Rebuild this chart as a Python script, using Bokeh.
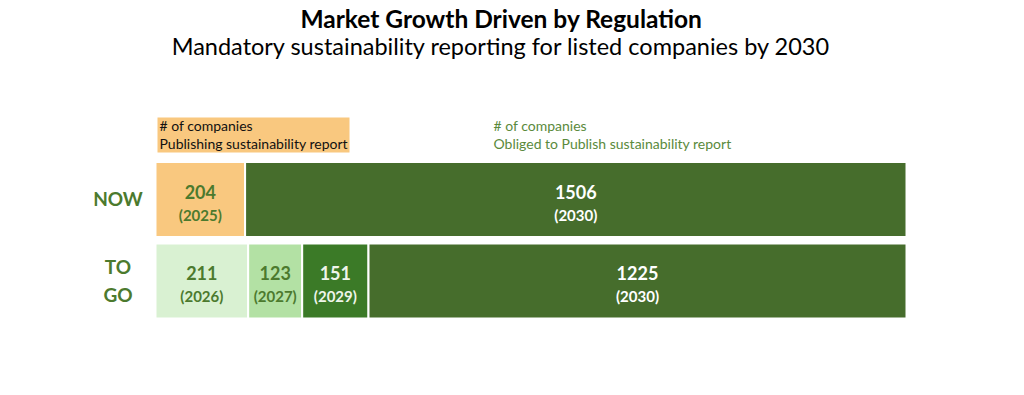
import numpy as np
from bokeh.plotting import figure
from bokeh.models import Range1d, ColumnDataSource
from bokeh.core.properties import value
from bokeh.embed import file_html
from bokeh.resources import INLINE

# ---------------- data ----------------
rows = ["NOW", "TO GO"]
now_values = [204, 1506]
now_years = ["2025", "2030"]
togo_values = [211, 123, 151, 1225]
togo_years = ["2026", "2027", "2029", "2030"]

title = "Market Growth Driven by Regulation"
subtitle = "Mandatory sustainability reporting for listed companies by 2030"
note_left = ["# of companies", "Publishing sustainability report"]
note_right = ["# of companies", "Obliged to Publish sustainability report"]

# ---------------- styles ----------------
now_colors = ["#F9C87F", "#466D2C"]
togo_colors = ["#D9F1D2", "#B3E1A4", "#3B7A27", "#466D2C"]
now_text_colors = ["#4C7A2E", "#FFFFFF"]
togo_text_colors = ["#4C7A2E", "#4C7A2E", "#EEF5EA", "#FFFFFF"]
GREEN = "#4C7A2E"
FONT = value("Lato")

OFF = 0                                  # page offset of the canvas (observed)
W, H = 1016, 387
BAR_L_PX, BAR_R_PX = 155 - OFF, 906 - OFF
ROW0_PX, ROW_STEP = 199 - OFF, 81.5

total = sum(now_values)
scale = (BAR_R_PX - BAR_L_PX) / total

def X(px):  # picture x -> data x
    return (px - OFF - BAR_L_PX) / scale

def Y(py):  # picture y -> data y (rows grow downward)
    return (py - OFF - ROW0_PX) / ROW_STEP

p = figure(width=W, height=H, output_backend="svg", toolbar_location=None,
           x_axis_location=None, y_axis_location=None, min_border=0,
           x_range=Range1d(X(OFF), X(OFF + W)),
           y_range=Range1d(Y(OFF + H), Y(OFF)))
p.grid.visible = False
p.outline_line_color = None
p.background_fill_color = "white"
p.border_fill_color = "white"

# ---------------- bars ----------------
def segs(vals):
    right = np.cumsum(vals)
    left = right - np.array(vals)
    return left, right

BAR_H = 75 / ROW_STEP
for ri, (vals, years, cols, tcols) in enumerate([
        (now_values, now_years, now_colors, now_text_colors),
        (togo_values, togo_years, togo_colors, togo_text_colors)]):
    left, right = segs(vals)
    src = ColumnDataSource(dict(y=[ri] * len(vals), left=left, right=right, color=cols))
    p.hbar(y="y", left="left", right="right", height=BAR_H, fill_color="color",
           line_color="white", line_width=2, source=src)
    mid = (left + right) / 2
    vsrc = ColumnDataSource(dict(x=mid, y=[ri + -8 / ROW_STEP] * len(vals),
                                 text=[str(v) for v in vals], color=tcols))
    p.text(x="x", y="y", text="text", text_color="color", source=vsrc,
           text_font=FONT, text_font_style="bold", text_font_size="18px",
           text_align="center", text_baseline="middle")
    ysrc = ColumnDataSource(dict(x=mid, y=[ri + 15 / ROW_STEP] * len(vals),
                                 text=["(%s)" % y for y in years], color=tcols))
    p.text(x="x", y="y", text="text", text_color="color", source=ysrc,
           text_font=FONT, text_font_style="bold", text_font_size="15px",
           text_align="center", text_baseline="middle")

# ---------------- row labels ----------------
for ri, lab in enumerate(rows):
    parts = lab.split(" ")
    n = len(parts)
    for k, part in enumerate(parts):
        off = (k - (n - 1) / 2) * 28 - 1
        p.text(x=[X(117.5)], y=[ri + off / ROW_STEP], text=[part],
               text_color=GREEN, text_font=FONT, text_font_style="bold",
               text_font_size="19px", text_align="center", text_baseline="middle")

# ---------------- notes ----------------
p.quad(left=[X(157)], right=[X(349)], top=[Y(117)], bottom=[Y(152)],
       fill_color="#F9C87F", line_color=None)
for k, t in enumerate(note_left):
    p.text(x=[X(159)], y=[Y(125 + 18 * k)], text=[t], text_color="#111111",
           text_font=FONT, text_font_size="14px", text_align="left",
           text_baseline="middle")
for k, t in enumerate(note_right):
    p.text(x=[X(493)], y=[Y(125 + 18 * k)], text=[t], text_color="#5A8A3C",
           text_font=FONT, text_font_size="14px", text_align="left",
           text_baseline="middle")

# ---------------- titles ----------------
p.text(x=[X(501)], y=[Y(18)], text=[title], text_color="#000000",
       text_font=FONT, text_font_style="bold", text_font_size="24.5px",
       text_align="center", text_baseline="middle")
p.text(x=[X(501)], y=[Y(45)], text=[subtitle], text_color="#000000",
       text_font=FONT, text_font_size="23.5px",
       text_align="center", text_baseline="middle")

open("out.html", "w").write(file_html(p, INLINE))
